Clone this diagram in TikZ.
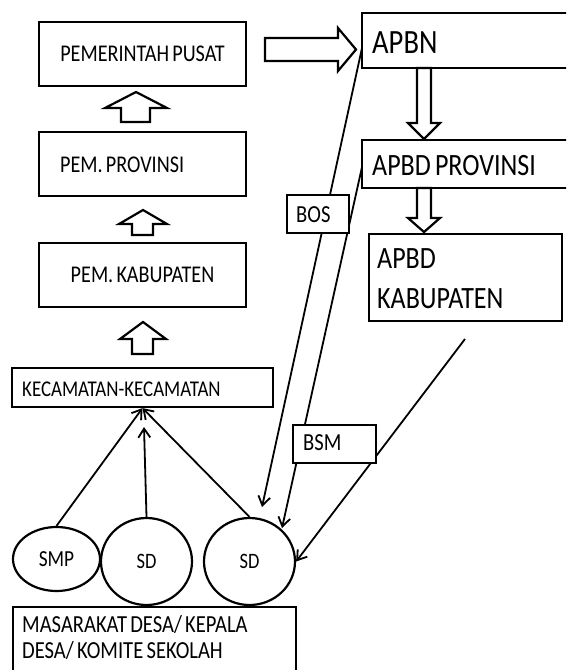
\documentclass[tikz,border=0pt]{standalone}
\usepackage{fontspec}
\setmainfont[FakeStretch=0.84,WordSpace=0.7]{Carlito}
\usetikzlibrary{arrows.meta,shapes.geometric}
\tikzset{
  box/.style={draw, line width=2.2pt, fill=white, inner sep=0pt},
  ell/.style={draw, ellipse, line width=2.2pt, fill=white, inner sep=0pt},
  lbl/.style={anchor=west, inner sep=0pt, align=left},
  conn/.style={line width=1.8pt, -{Straight Barb[length=9pt,width=12pt]}},
  blk/.style={draw, line width=2.2pt, fill=white, line join=miter},
  fa/.style={font=\fontsize{24}{28}\selectfont},
  fb/.style={font=\fontsize{31}{40}\selectfont},
  fc/.style={font=\fontsize{24.5}{26}\selectfont},
}
\begin{document}
\begin{tikzpicture}[x=1pt,y=-1pt]
\useasboundingbox (0,0) rectangle (566,670);
\clip (0,0) rectangle (566,670);

% free ends of connectors
\coordinate (bosA) at (362,48);
\coordinate (bosB) at (262,507);
\coordinate (bsmA) at (362,167);
\coordinate (bsmB) at (282,528);
\coordinate (kabA) at (465,339);
\coordinate (kecmid) at (144,427);

% schools
\node[ell, font=\fontsize{23}{27}\selectfont, minimum width=87pt, minimum height=64pt] (smp) at (56.5,559) {SMP};
\node[ell, font=\fontsize{22}{26}\selectfont, minimum width=91pt, minimum height=87pt] (sd1) at (146.5,561.5) {SD};
\node[ell, font=\fontsize{22}{26}\selectfont, minimum width=91pt, minimum height=87pt] (sd2) at (249.5,561.5) {SD};

% long connectors (boxes drawn over them)
\draw[conn] (bosA) -- (bosB);
\draw[conn] (bsmA) -- (bsmB);
\draw[conn] (kabA) -- (sd2.east);

% left column
\node[box, fa, minimum width=207pt, minimum height=64pt] (pusat) at (142.5,54) {PEMERINTAH PUSAT};
\node[box, minimum width=207pt, minimum height=64pt] (prov) at (142.5,164) {};
\node[lbl, fa] (provlbl) at (60,165) {PEM. PROVINSI};
\node[box, fa, minimum width=207pt, minimum height=64pt] (kab) at (142.5,275) {PEM. KABUPATEN};
\node[box, minimum width=261pt, minimum height=39pt] (kec) at (142.5,387.5) {};
\node[lbl, font=\fontsize{22.5}{26}\selectfont] (keclbl) at (22,389) {KECAMATAN-KECAMATAN};

% right column
\node[box, minimum width=238pt, minimum height=55pt] (apbn) at (481,40.5) {};
\node[lbl, font=\fontsize{34}{38}\selectfont] (apbnlbl) at (372,43) {APBN};
\node[box, minimum width=238pt, minimum height=48pt] (apbdprov) at (481,164) {};
\node[lbl, fb] (apbdprovlbl) at (372,166) {APBD PROVINSI};
\node[box, minimum width=193pt, minimum height=87pt] (apbdkab) at (465.5,277.5) {};
\node[lbl, fb] (apbdkablbl) at (377,278.5) {APBD\\KABUPATEN};

% labels on lines
\node[box, minimum width=62pt, minimum height=38pt] (bos) at (318,214) {};
\node[lbl, fc] (boslbl) at (296,214.5) {BOS};
\node[box, minimum width=83pt, minimum height=38pt] (bsm) at (334.5,444) {};
\node[lbl, fc] (bsmlbl) at (303,442.5) {BSM};

% bottom box
\node[box, anchor=north west, minimum width=283pt, minimum height=90pt] (masy) at (12,606) {};
\node[lbl, fc] (masytext) at (22,638) {MASARAKAT DESA/ KEPALA\\DESA/ KOMITE SEKOLAH};

% arrows school -> kecamatan
\draw[conn] (smp.north) -- (kec.south);
\draw[conn] (sd1.north) -- (kecmid);
\draw[conn] (sd2.north) -- (kec.south);

% block arrows
\draw[blk] (265,38) -- (338,38) -- (338,28) -- (356,49.5) -- (338,71) -- (338,61) -- (265,61) -- cycle;
\draw[blk] (121,122) -- (121,108) -- (105,108) -- (136,92) -- (167,108) -- (150,108) -- (150,122) -- cycle;
\draw[blk] (132,235) -- (132,224) -- (119,224) -- (143,210) -- (167,224) -- (153,224) -- (153,235) -- cycle;
\draw[blk] (132,354) -- (132,339) -- (120,339) -- (143,322) -- (166,339) -- (153,339) -- (153,354) -- cycle;
\draw[blk] (417,68) -- (431,68) -- (431,123) -- (440,123) -- (424,139) -- (408,123) -- (417,123) -- cycle;
\draw[blk] (417,188) -- (431,188) -- (431,218) -- (440,218) -- (424,232) -- (408,218) -- (417,218) -- cycle;
\end{tikzpicture}
\end{document}
